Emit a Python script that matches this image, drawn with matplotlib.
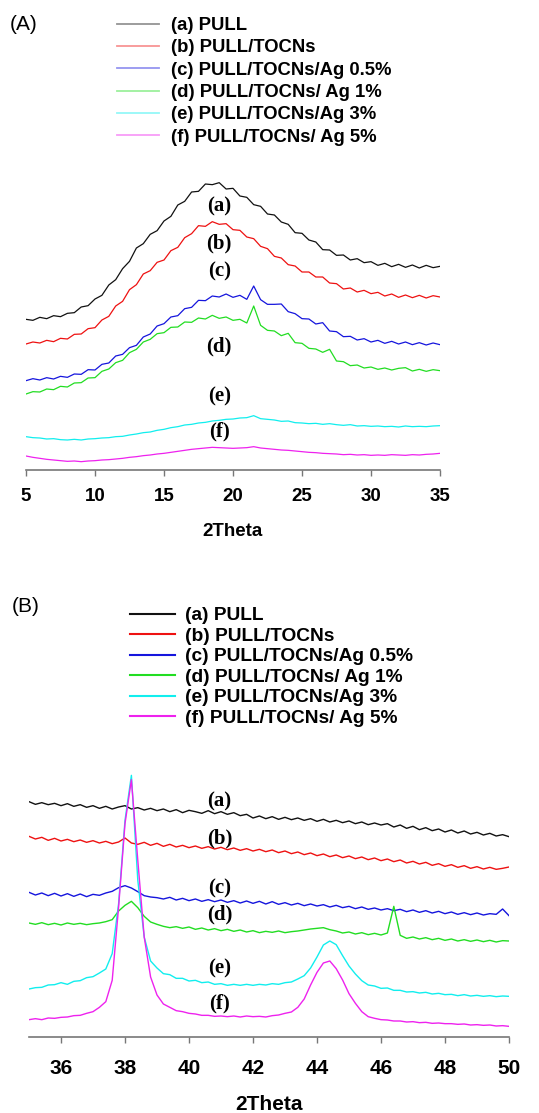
import numpy as np
import matplotlib.pyplot as plt
from matplotlib.lines import Line2D

plt.rcParams['font.family'] = ['Liberation Sans', 'DejaVu Sans']

# ---- panel (A): broad 2Theta scan, 5-35 deg, step 0.5
theta_a = np.linspace(5, 35, 61)
pull_a = [452, 449, 458, 454, 463, 460, 470, 472, 489, 493, 513, 524, 555, 571, 604, 626, 666, 679, 707, 718,
          747, 761, 795, 806, 834, 836, 858, 856, 862, 843, 845, 822, 818, 796, 791, 768, 765, 744, 737, 712,
          710, 690, 684, 661, 660, 644, 645, 630, 634, 622, 625, 614, 620, 610, 617, 608, 615, 606, 614, 607, 611]
tocn_a = [378, 384, 381, 389, 385, 395, 393, 407, 408, 424, 427, 450, 461, 492, 506, 541, 556, 588, 598, 623,
          630, 658, 668, 697, 709, 733, 731, 745, 737, 739, 721, 719, 699, 694, 671, 664, 641, 636, 616, 612,
          594, 594, 579, 579, 561, 559, 543, 546, 534, 539, 529, 533, 522, 528, 518, 525, 517, 524, 516, 523, 519]
ag05_a = [268, 274, 270, 277, 273, 281, 278, 288, 287, 301, 300, 317, 321, 342, 347, 367, 374, 399, 408, 432,
          439, 459, 463, 484, 488, 509, 508, 522, 519, 528, 518, 524, 512, 552, 511, 497, 497, 498, 475, 469,
          454, 453, 438, 442, 417, 415, 400, 401, 390, 394, 384, 389, 380, 386, 378, 384, 376, 382, 375, 381, 376]
ag1_a = [228, 235, 234, 243, 241, 251, 249, 261, 262, 276, 277, 296, 303, 322, 329, 352, 362, 384, 392, 409,
         412, 428, 429, 444, 443, 456, 453, 464, 455, 459, 449, 452, 441, 492, 434, 419, 417, 403, 410, 382,
         380, 365, 363, 353, 362, 327, 325, 313, 315, 306, 309, 302, 306, 300, 305, 307, 297, 302, 296, 301, 298]
ag3_a = [100, 97, 96, 93, 94, 91, 90, 92, 90, 93, 94, 96, 97, 100, 101, 105, 108, 112, 114, 119,
         122, 127, 130, 135, 137, 141, 143, 147, 149, 152, 153, 156, 157, 163, 154, 152, 150, 146, 147, 142,
         141, 139, 140, 137, 139, 136, 134, 136, 132, 133, 131, 132, 130, 131, 129, 132, 130, 131, 130, 132, 133]
ag5_a = [42, 38, 35, 32, 30, 28, 26, 27, 25, 27, 28, 30, 31, 33, 35, 38, 40, 43, 45, 48,
         50, 53, 56, 59, 62, 64, 66, 68, 67, 66, 65, 66, 67, 70, 66, 64, 62, 60, 59, 57,
         55, 53, 52, 50, 49, 48, 46, 47, 45, 46, 44, 45, 44, 46, 45, 44, 46, 45, 47, 48, 50]

# ---- panel (B): Ag region, 35-50 deg, step 0.2
theta_b = np.linspace(35, 50, 76)
pull_b = [706, 698, 703, 697, 701, 694, 700, 692, 697, 689, 694, 686, 692, 684, 690, 694, 684, 688, 681, 686,
          679, 684, 676, 682, 673, 680, 676, 671, 679, 670, 676, 668, 673, 664, 668, 657, 663, 655, 661, 653,
          659, 652, 657, 650, 655, 647, 653, 645, 650, 643, 648, 640, 645, 637, 642, 636, 640, 630, 636, 626,
          632, 622, 628, 619, 624, 615, 621, 612, 618, 609, 614, 606, 611, 603, 607, 601]
tocn_b = [602, 594, 599, 590, 596, 588, 593, 586, 591, 584, 589, 582, 587, 580, 585, 597, 582, 578, 584, 575,
          581, 572, 578, 570, 575, 568, 573, 566, 571, 564, 569, 562, 567, 560, 565, 558, 563, 556, 561, 553,
          558, 550, 555, 547, 552, 544, 549, 541, 546, 538, 543, 535, 540, 532, 537, 529, 534, 526, 531, 522,
          527, 519, 524, 515, 520, 512, 517, 509, 514, 506, 511, 504, 509, 503, 506, 510]
ag05_b = [434, 426, 432, 424, 431, 423, 430, 422, 429, 421, 428, 425, 432, 437, 448, 454, 447, 436, 424, 420,
          418, 414, 419, 411, 416, 409, 414, 407, 412, 406, 411, 404, 409, 402, 408, 401, 407, 399, 406, 398,
          403, 396, 401, 394, 399, 393, 397, 390, 395, 388, 392, 385, 390, 383, 387, 381, 385, 379, 383, 376,
          381, 374, 379, 372, 377, 370, 375, 368, 373, 367, 372, 366, 370, 368, 384, 364]
ag1_b = [342, 338, 343, 337, 341, 336, 342, 338, 341, 337, 340, 342, 346, 352, 378, 395, 407, 388, 362, 345,
         338, 332, 328, 331, 326, 330, 323, 327, 321, 325, 319, 323, 317, 321, 315, 319, 313, 317, 314, 318,
         313, 316, 318, 321, 324, 326, 328, 322, 318, 312, 315, 309, 313, 307, 311, 306, 312, 392, 305, 296,
         300, 294, 298, 292, 296, 290, 294, 288, 292, 287, 291, 286, 290, 285, 289, 288]
ag3_b = [144, 148, 149, 156, 157, 163, 158, 167, 169, 178, 181, 192, 204, 250, 400, 650, 785, 470, 300, 228,
         207, 190, 187, 176, 176, 168, 170, 163, 165, 158, 160, 155, 158, 155, 158, 155, 158, 156, 160, 158,
         163, 165, 174, 184, 207, 240, 276, 288, 277, 244, 213, 189, 169, 156, 153, 146, 147, 140, 140, 135,
         136, 132, 134, 129, 131, 127, 128, 124, 127, 123, 125, 122, 124, 121, 123, 122]
ag5_b = [52, 55, 52, 57, 56, 59, 60, 64, 65, 71, 76, 89, 106, 170, 390, 640, 772, 530, 300, 180,
         126, 99, 89, 79, 76, 71, 69, 65, 65, 62, 63, 61, 63, 60, 63, 61, 62, 60, 64, 66,
         71, 75, 89, 114, 156, 194, 222, 228, 205, 171, 130, 101, 76, 61, 56, 52, 51, 48, 48, 45,
         46, 43, 44, 41, 42, 40, 40, 38, 39, 36, 37, 35, 36, 33, 34, 32]

legend_labels = ['(a) PULL', '(b) PULL/TOCNs', '(c) PULL/TOCNs/Ag 0.5%',
                 '(d) PULL/TOCNs/ Ag 1%', '(e) PULL/TOCNs/Ag 3%', '(f) PULL/TOCNs/ Ag 5%']
tags = ['(a)', '(b)', '(c)', '(d)', '(e)', '(f)']
colors = ['#111111', '#ee1111', '#1515dd', '#22dd22', '#11eeee', '#ee22ee']

# where the (a)..(f) tags sit
tag_x_a = 19.0
tag_y_a = [790, 680, 595, 370, 220, 115]
tag_x_b = 40.95
tag_y_b = [707, 597, 447, 367, 207, 102]

series_a = [pull_a, tocn_a, ag05_a, ag1_a, ag3_a, ag5_a]
series_b = [pull_b, tocn_b, ag05_b, ag1_b, ag3_b, ag5_b]

W, H = 539, 1113
fig = plt.figure(figsize=(W / 100, H / 100), dpi=100)


def style_axis(ax, ticks, xlim, ylim, size, pad, labelpad):
    ax.set_xlim(*xlim)
    ax.set_ylim(*ylim)
    for s in ['left', 'right', 'top']:
        ax.spines[s].set_visible(False)
    ax.spines['bottom'].set_color('#777777')
    ax.spines['bottom'].set_linewidth(1.2)
    ax.set_yticks([])
    ax.set_xticks(ticks)
    ax.set_xticklabels([str(t) for t in ticks], fontweight='bold', fontsize=size)
    ax.tick_params(axis='x', direction='out', length=4, width=1, color='#777777', pad=pad)
    ax.set_xlabel('2Theta', fontweight='bold', fontsize=size, labelpad=labelpad)
    ax.patch.set_alpha(0)


# panel A
ax_a = fig.add_axes([26 / W, 1 - 470 / H, 414 / W, 295 / H])
for vals, c in zip(series_a, colors):
    ax_a.plot(theta_a, vals, color=c, lw=0.9)
for t, y in zip(tags, tag_y_a):
    ax_a.text(tag_x_a, y, t, family='Liberation Serif', fontweight='bold', fontsize=15,
              ha='center', va='center')
style_axis(ax_a, [5, 10, 15, 20, 25, 30, 35], (5, 35), (0, 885), 13.5, 9, 13)

# panel B
ax_b = fig.add_axes([29 / W, 1 - 1037 / H, 480 / W, 265 / H])
for vals, c in zip(series_b, colors):
    ax_b.plot(theta_b, vals, color=c, lw=1.0)
for t, y in zip(tags, tag_y_b):
    ax_b.text(tag_x_b, y, t, family='Liberation Serif', fontweight='bold', fontsize=15,
              ha='center', va='center')
style_axis(ax_b, [36, 38, 40, 42, 44, 46, 48, 50], (35, 50), (0, 795), 15, 12, 12)

# legends
handles_a = [Line2D([], [], color=c, lw=1.3, alpha=0.45) for c in colors]
fig.legend(handles_a, legend_labels, loc='upper left', bbox_to_anchor=(117 / W, 1 - 17 / H),
           frameon=False, prop={'weight': 'bold', 'size': 13.3}, handlelength=2.3,
           handletextpad=0.6, labelspacing=0.29, borderpad=0, borderaxespad=0)
handles_b = [Line2D([], [], color=c, lw=1.5) for c in colors]
fig.legend(handles_b, legend_labels, loc='upper left', bbox_to_anchor=(130 / W, 1 - 607 / H),
           frameon=False, prop={'weight': 'bold', 'size': 13.8}, handlelength=2.35,
           handletextpad=0.5, labelspacing=0.16, borderpad=0, borderaxespad=0)

fig.text(10 / W, 1 - 25 / H, '(A)', fontsize=15, va='center', ha='left')
fig.text(12 / W, 1 - 607 / H, '(B)', fontsize=15, va='center', ha='left')

fig.savefig('out.png', dpi=100)
